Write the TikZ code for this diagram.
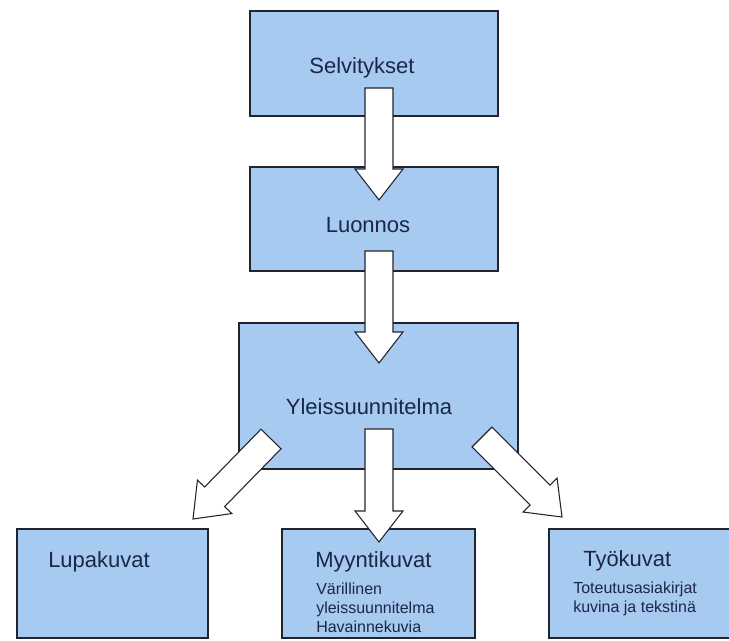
\documentclass[tikz,border=0pt]{standalone}
\usepackage{fontspec}
\setmainfont{Liberation Sans}
\usetikzlibrary{calc}
\definecolor{laatikkosini}{RGB}{166,202,240}
\definecolor{reuna}{RGB}{35,35,45}
\definecolor{tekstisini}{RGB}{28,38,72}

\begin{document}
\begin{tikzpicture}[x=0.75pt,y=-0.75pt,
    laatikko/.style={draw=reuna,fill=laatikkosini,line width=1.1pt,rectangle,inner sep=0pt},
    otsikko/.style={text=tekstisini,inner sep=0pt,font=\fontsize{16.5}{20}\selectfont},
    selite/.style={text=tekstisini,inner sep=0pt,align=left,font=\fontsize{12}{14.25}\selectfont},
    nuoli/.style={draw=reuna,fill=white,line width=0.8pt,line join=miter}]
                \useasboundingbox (0,0) rectangle (729,641);
                \clip (0,0) rectangle (729,641);

                \node[laatikko,minimum width=186pt,minimum height=78.75pt] (selv) at (374,63.5) {};
                \node[laatikko,minimum width=186pt,minimum height=78pt] (luon) at (374,219) {};
                \node[laatikko,minimum width=209.25pt,minimum height=109.5pt] (ylei) at (378.5,396) {};
                \node[laatikko,minimum width=143.25pt,minimum height=81.75pt] (lupa) at (112.5,583.5) {};
                \node[laatikko,minimum width=144.75pt,minimum height=81.75pt] (myyn) at (378.5,583.5) {};
                \node[laatikko,minimum width=144.75pt,minimum height=81.75pt] (tyo) at (645.5,583.5) {};

                \node[otsikko,anchor=base] (selv-t) at (362,74) {Selvitykset};
                \node[otsikko,anchor=base] (luon-t) at (368,233) {Luonnos};
                \node[otsikko,anchor=base] (ylei-t) at (369,415) {Yleissuunnitelma};
                \node[otsikko,anchor=base west] (lupa-t) at (48,568) {Lupakuvat};
                \node[otsikko,anchor=base west] (myyn-t) at (315,568) {Myyntikuvat};
                \node[otsikko,anchor=base west] (tyo-t) at (583,567) {Työkuvat};
                \node[selite,anchor=north west] (myyn-s) at (316,583) {Värillinen\\yleissuunnitelma\\Havainnekuvia};
                \node[selite,anchor=north west] (tyo-s) at (573,582) {Toteutusasiakirjat\\kuvina ja tekstinä};

                \coordinate (a1) at (379,88);  \coordinate (b1) at (379,200);
                \coordinate (a2) at (379,251); \coordinate (b2) at (379,363);
                \coordinate (a3) at (379,429); \coordinate (b3) at (379,542);
                \coordinate (a4) at (271,439); \coordinate (b4) at (193,519);
                \coordinate (a5) at (482,437); \coordinate (b5) at (562,517);

                \foreach \a/\b in {a1/b1,a2/b2,a3/b3,a4/b4,a5/b5}{
                    \coordinate (h) at ($(\b)!23.25pt!(\a)$);
                    \draw[nuoli] ($(\a)!10.5pt!90:(\b)$) -- ($(h)!10.5pt!90:(\b)$)
                        -- ($(h)!18pt!90:(\b)$) -- (\b) -- ($(h)!18pt!-90:(\b)$)
                        -- ($(h)!10.5pt!-90:(\b)$) -- ($(\a)!10.5pt!-90:(\b)$) -- cycle;
                }
            \end{tikzpicture}
\end{document}
